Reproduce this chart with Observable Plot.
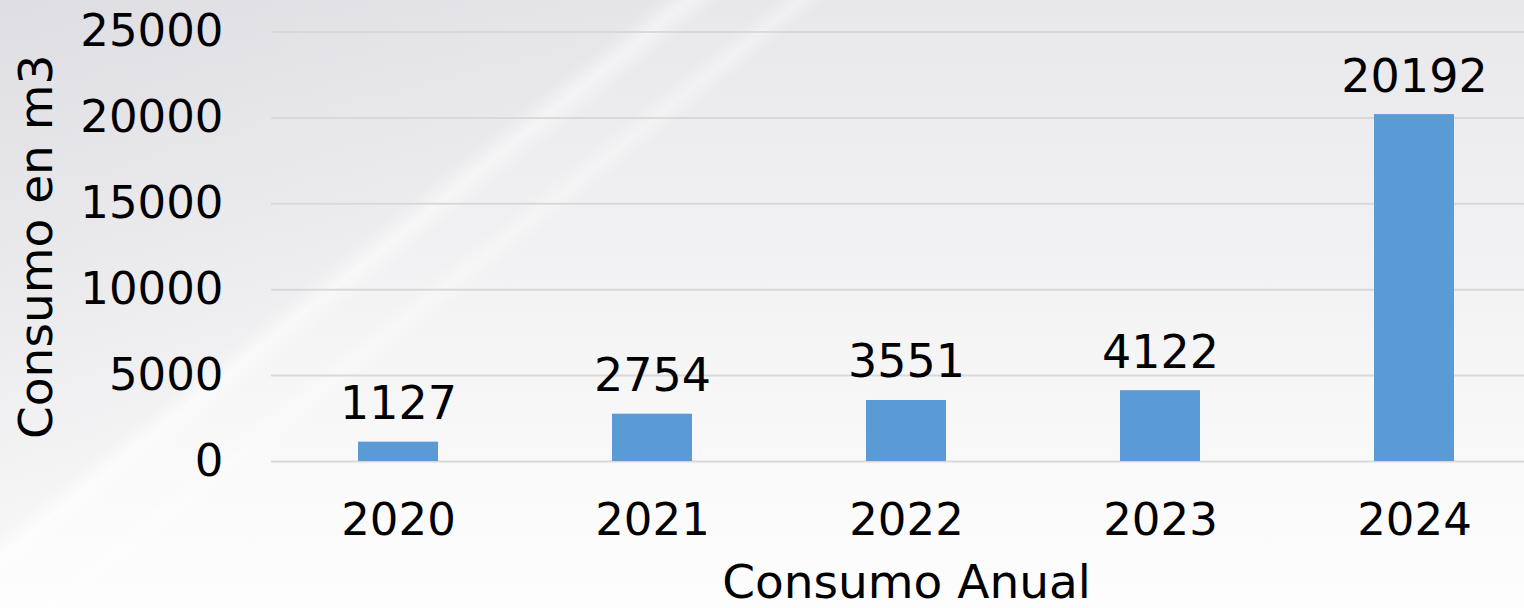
<!DOCTYPE html>
<html>
<head>
<meta charset="utf-8">
<script src="https://cdn.jsdelivr.net/npm/d3@7"></script>
<script src="https://cdn.jsdelivr.net/npm/@observablehq/plot@0.6"></script>
<style>
  html, body { margin: 0; padding: 0; overflow: hidden; width: 1524px; height: 608px; }
  #chart svg { display: block; }
</style>
</head>
<body>
<div id="chart"></div>
<script>
const years = ["2020", "2021", "2022", "2023", "2024"];
const consumo = [1127, 2754, 3551, 4122, 20192];
const yTicks = [0, 5000, 10000, 15000, 20000, 25000];
const xTitle = "Consumo Anual";
const yTitle = "Consumo en m3";

const data = years.map((y, i) => ({year: y, value: consumo[i]}));

const bg = [
  "linear-gradient(141deg, rgba(255,255,255,0) 28.8%, rgba(255,255,255,0.45) 30.3%, rgba(255,255,255,0) 31.8%, rgba(255,255,255,0) 34%, rgba(255,255,255,0.35) 35.2%, rgba(255,255,255,0) 36.4%)",
  "linear-gradient(141deg, rgba(205,205,212,0.35) 0%, rgba(215,215,220,0.15) 29.5%, rgba(0,0,0,0) 30.3%)",
  "linear-gradient(to bottom, #e8e8eb 0%, #f1f1f3 40%, #fbfbfb 85%, #fdfdfd 100%)"
].join(", ");

const font = "'DejaVu Sans', sans-serif";

const chart = Plot.plot({
  width: 1524,
  height: 608,
  marginLeft: 271,
  marginRight: -17,
  marginTop: 31.5,
  marginBottom: 147,
  style: {
    background: bg,
    fontFamily: font,
    fontSize: "45px",
    color: "#000",
    overflow: "hidden"
  },
  x: {
    domain: years,
    paddingInner: 0.685,
    paddingOuter: 0.3425,
    label: null
  },
  y: {
    domain: [0, 25000],
    label: null
  },
  marks: [
    Plot.gridY(yTicks, {stroke: "#d9d9d9", strokeOpacity: 1, strokeWidth: 2}),
    Plot.barY(data, {x: "year", y: "value", fill: "#5b9bd5"}),
    Plot.text(data, {x: "year", y: "value", text: d => String(d.value), lineAnchor: "bottom", dy: -23, fill: "#000", fontSize: 46}),
    Plot.axisY(yTicks, {
      tickSize: 0, tickPadding: 48, tickFormat: d => String(d), fontSize: 45,
      label: yTitle, labelAnchor: "center", labelArrow: "none", labelOffset: 253
    }),
    Plot.axisX(years, {
      tickSize: 0, tickPadding: 42, fontSize: 45,
      label: xTitle, labelAnchor: "center", labelArrow: "none", labelOffset: 136
    })
  ]
});

// make axis titles a bit larger
chart.querySelectorAll("text").forEach(t => {
  if (t.textContent === xTitle) t.setAttribute("font-size", 47);
  if (t.textContent === yTitle) t.setAttribute("font-size", 47);
});

document.getElementById("chart").appendChild(chart);
</script>
</body>
</html>
